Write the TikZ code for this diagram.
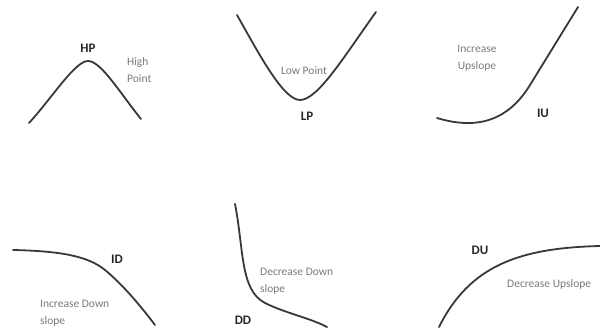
\documentclass[tikz,border=0pt]{standalone}
\usepackage{fontspec}
\setmainfont{Carlito}
\usetikzlibrary{positioning}

\begin{document}
\begin{tikzpicture}[
    x=1pt, y=-1pt,
    curve/.style={draw=black!78, line width=1.8pt, line cap=round},
    note/.style={text=black!52, font=\fontsize{11.5}{17}\selectfont, inner sep=0pt},
    tag/.style={text=black!85, font=\fontsize{13}{15}\selectfont\bfseries, inner sep=0pt}
]
\useasboundingbox (0,0) rectangle (600,329);

% Row 1: HP, LP, IU
\draw[curve] (29,123) .. controls (52,98) and (75,61) .. (88,61) .. controls (101,61) and (120,93) .. (141,119);
\node[tag] (hp) at (88,48) {HP};
\node[note, anchor=west, align=left] (hpnote) at (127,70) {High\\Point};

\draw[curve] (237,15) .. controls (258,52) and (283,100) .. (300,100) .. controls (318,100) and (345,55) .. (376,12);
\node[note] (lpnote) at (304,71) {Low Point};
\node[tag] (lp) at (307,116) {LP};

\draw[curve] (437,118) .. controls (470,128) and (505,126) .. (530,85) -- (578,7);
\node[note, align=center] (iunote) at (477,58) {Increase\\Upslope};
\node[tag] (iu) at (543,113) {IU};

% Row 2: ID, DD, DU
\draw[curve] (13,250) .. controls (60,251) and (88,256) .. (105,270) .. controls (122,284) and (140,305) .. (155,325);
\node[tag] (id) at (117,259) {ID};
\node[note, anchor=west, align=left] (idnote) at (40,313) {Increase Down\\slope};

\draw[curve] (235,204) .. controls (244,250) and (240,290) .. (265,303) .. controls (285,313) and (310,318) .. (327,327);
\node[note, anchor=west, align=left] (ddnote) at (260,281) {Decrease Down\\slope};
\node[tag] (dd) at (243,320) {DD};

\draw[curve] (439,327) .. controls (470,265) and (520,248) .. (600,246);
\node[tag] (du) at (480,250) {DU};
\node[note, anchor=west] (dunote) at (507,284) {Decrease Upslope};

\end{tikzpicture}
\end{document}
